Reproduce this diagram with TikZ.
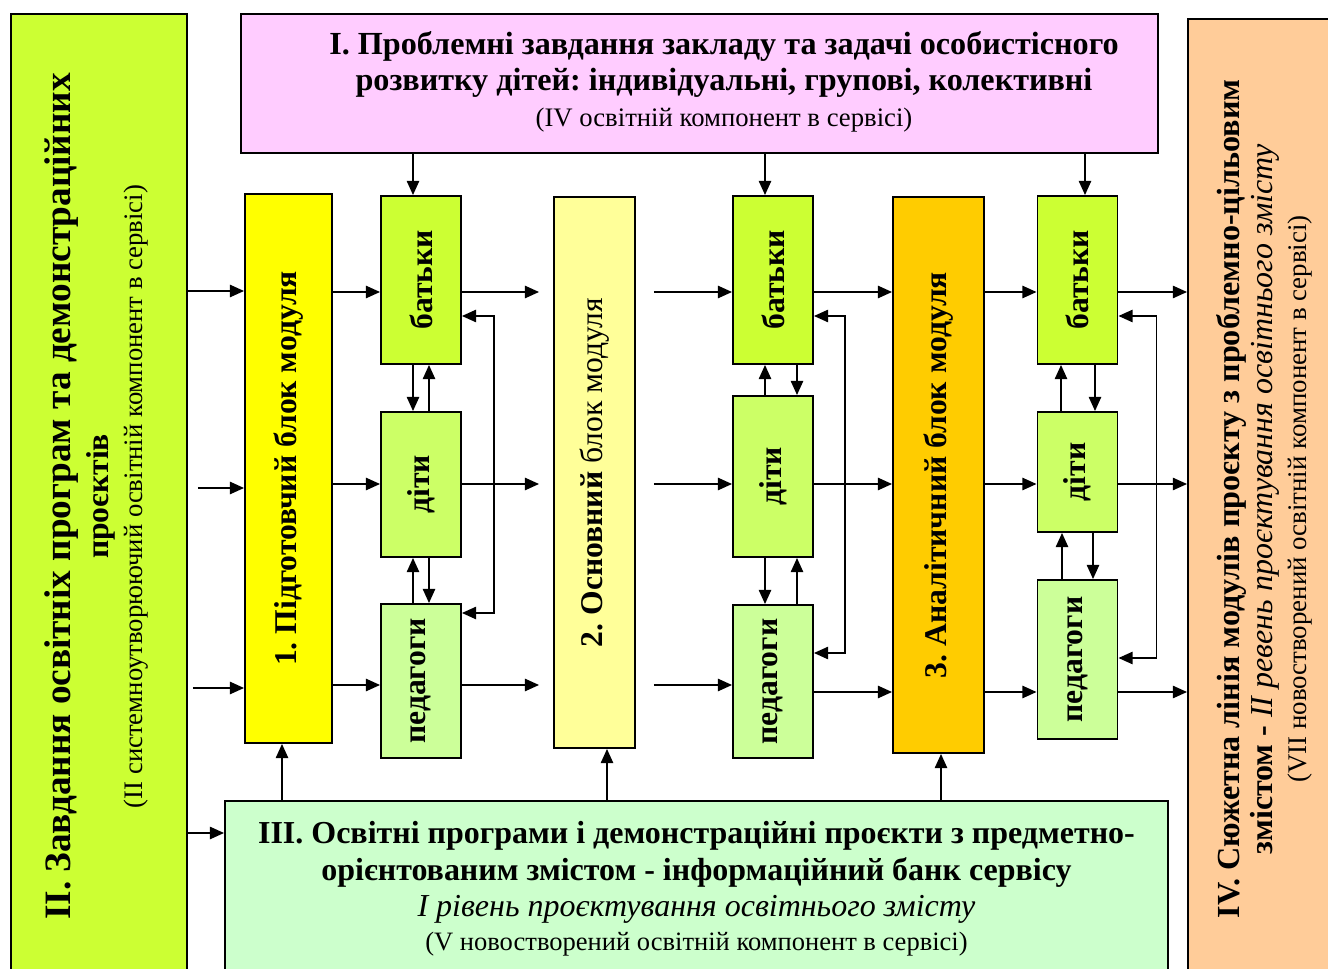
\documentclass[tikz,border=0pt]{standalone}
\usepackage{fontspec}
\setmainfont{Liberation Serif}
\frenchspacing
\usetikzlibrary{arrows.meta}
\definecolor{cLime}{HTML}{CCFF33}
\definecolor{cDit}{HTML}{CCFF66}
\definecolor{cPed}{HTML}{CCFF99}
\definecolor{cYel}{HTML}{FFFF00}
\definecolor{cPale}{HTML}{FFFF99}
\definecolor{cOrange}{HTML}{FFCC00}
\definecolor{cPink}{HTML}{FFCCFF}
\definecolor{cMint}{HTML}{CCFFCC}
\definecolor{cPeach}{HTML}{FFCC99}
\newcommand{\vtxt}[1]{\rotatebox{90}{#1}}

\begin{document}
\begin{tikzpicture}[>={Triangle[length=8pt,width=7pt]},
  box/.style={draw,line width=1.1pt,inner sep=0pt,font=\bfseries\fontsize{18}{21}\selectfont},
  small/.style={box,minimum width=1.6cm},
  ar/.style={->,line width=0.85pt},
  loop/.style={<->,line width=0.85pt}]
\useasboundingbox (0,0) rectangle (26.56,19.36);
\coordinate (r1) at (0,13.52);
\coordinate (r2) at (0,9.68);
\coordinate (r3) at (0,5.66);
\coordinate (r4) at (0,5.52);

\node[box,fill=cLime,minimum width=3.52cm,minimum height=19.3cm,anchor=north west] (zad) at (0.2,19.1)
  {\vtxt{\begin{tabular}{c}\fontsize{21.2}{24}\selectfont ІІ. Завдання освітніх програм та демонстраційних\\[1pt]
  проєктів\\[-2pt] \mdseries\fontsize{15.2}{17}\selectfont (ІІ системноутворюючий освітній компонент в сервісі)\end{tabular}}};
\node[box,fill=cPeach,minimum width=3.1cm,minimum height=19.2cm,anchor=north west] (sjuz) at (23.74,19.0)
  {\vtxt{\begin{tabular}{c}\fontsize{18.3}{20}\selectfont IV. Сюжетна лінія модулів проєкту з проблемно-цільовим\\[-2pt]
  \fontsize{18.2}{20}\selectfont змістом - \mdseries\itshape ІІ ревень проєктування освітнього змісту\\[-2pt]
  \mdseries\fontsize{15.3}{17}\selectfont (VII новостворений освітній компонент в  сервісі)\end{tabular}}};
\node[box,fill=cPink,minimum width=18.34cm,minimum height=2.78cm] (prob) at (13.99,17.69) {};
\node[align=center,font=\bfseries\fontsize{18.3}{20.5}\selectfont] (probtxt) at (14.48,17.72)
  {І. Проблемні завдання закладу та задачі особистісного\\
  розвитку дітей: індивідуальні, групові, колективні\\
  {\mdseries\fontsize{15.2}{17}\selectfont (IV освітній компонент в сервісі)}};
\node[box,fill=cMint,minimum width=18.86cm,minimum height=3.5cm,anchor=north,align=center,font=\bfseries\fontsize{18.2}{21}\selectfont] (osv) at (13.93,3.36)
  {ІІІ. Освітні програми і демонстраційні проєкти з предметно-\\
  орієнтованим змістом - інформаційний банк сервісу\\
  {\mdseries\itshape І рівень проєктування освітнього змісту}\\[-2pt]
  {\mdseries\fontsize{15.1}{17}\selectfont (V новостворений освітній компонент в сервісі)}};

\node[box,fill=cYel,minimum width=1.74cm,minimum height=10.98cm] (blok1) at (5.77,9.99) {\vtxt{1. Підготовчий блок модуля}};
\node[box,fill=cPale,minimum width=1.62cm,minimum height=11.02cm] (blok2) at (11.89,9.91) {\vtxt{2. Основний {\mdseries блок модуля}}};
\node[box,fill=cOrange,minimum width=1.82cm,minimum height=11.12cm] (blok3) at (18.77,9.86) {\vtxt{3. Аналітичний блок модуля}};

\node[small,fill=cLime,minimum height=3.36cm] (bat1) at (8.42,13.76) {\vtxt{батьки}};
\node[small,fill=cDit,minimum height=2.9cm] (dit1) at (8.42,9.67) {\vtxt{діти}};
\node[small,fill=cPed,minimum height=3.08cm] (ped1) at (8.42,5.74) {\vtxt{педагоги}};
\node[small,fill=cLime,minimum height=3.36cm] (bat2) at (15.46,13.76) {\vtxt{батьки}};
\node[small,fill=cDit,minimum height=3.22cm] (dit2) at (15.46,9.83) {\vtxt{діти}};
\node[small,fill=cPed,minimum height=3.06cm] (ped2) at (15.46,5.73) {\vtxt{педагоги}};
\node[small,fill=cLime,minimum height=3.36cm] (bat3) at (21.55,13.76) {\vtxt{батьки}};
\node[small,fill=cDit,minimum height=2.4cm] (dit3) at (21.55,9.92) {\vtxt{діти}};
\node[small,fill=cPed,minimum height=3.18cm] (ped3) at (21.55,6.17) {\vtxt{педагоги}};

\draw[ar] (zad.east |- 0,13.54) -- (blok1.west |- 0,13.54);
\draw[ar] ([xshift=2mm]zad.east |- 0,9.6) -- (blok1.west |- 0,9.6);
\draw[ar] ([xshift=1mm]zad.east |- 0,5.6) -- (blok1.west |- 0,5.6);
\draw[ar] (zad.east |- 0,2.7) -- (osv.west |- 0,2.7);

\draw[ar] (prob.south -| 8.26,0) -- (bat1.north -| 8.26,0);
\draw[ar] (prob.south -| 15.3,0) -- (bat2.north -| 15.3,0);
\draw[ar] (prob.south -| 21.7,0) -- (bat3.north -| 21.7,0);

\draw[ar] (osv.north -| 5.64,0) -- (blok1.south -| 5.64,0);
\draw[ar] (osv.north -| 12.14,0) -- (blok2.south -| 12.14,0);
\draw[ar] (osv.north -| 18.82,0) -- (blok3.south -| 18.82,0);

\draw[ar] (blok1.east |- r1) -- (bat1.west |- r1);
\draw[ar] (blok1.east |- r2) -- (dit1.west |- r2);
\draw[ar] (blok1.east |- r3) -- (ped1.west |- r3);
\draw[ar,shorten >=2.8mm] (bat1.east |- r1) -- (blok2.west |- r1);
\draw[ar,shorten >=2.8mm] (dit1.east |- r2) -- (blok2.west |- r2);
\draw[ar,shorten >=2.8mm] (ped1.east |- r3) -- (blok2.west |- r3);
\draw[ar,shorten <=3.6mm] (blok2.east |- r1) -- (bat2.west |- r1);
\draw[ar,shorten <=3.6mm] (blok2.east |- r2) -- (dit2.west |- r2);
\draw[ar,shorten <=3.6mm] (blok2.east |- r3) -- (ped2.west |- r3);
\draw[ar] (bat2.east |- r1) -- (blok3.west |- r1);
\draw[ar] (dit2.east |- r2) -- (blok3.west |- r2);
\draw[ar] (ped2.east |- r4) -- (blok3.west |- r4);
\draw[ar] (blok3.east |- r1) -- (bat3.west |- r1);
\draw[ar] (blok3.east |- r2) -- (dit3.west |- r2);
\draw[ar] (blok3.east |- r4) -- (ped3.west |- r4);
\draw[ar] (bat3.east |- r1) -- (sjuz.west |- r1);
\draw[ar] (dit3.east |- r2) -- (sjuz.west |- r2);
\draw[ar] (ped3.east |- r4) -- (sjuz.west |- r4);

\draw[ar] ([xshift=-1.6mm]bat1.south) -- ([xshift=-1.6mm]dit1.north);
\draw[ar] ([xshift=1.6mm]dit1.north) -- ([xshift=1.6mm]bat1.south);
\draw[ar] ([xshift=-1.6mm]ped1.north) -- ([xshift=-1.6mm]dit1.south);
\draw[ar] ([xshift=1.6mm]dit1.south) -- ([xshift=1.6mm]ped1.north);
\draw[ar] ([xshift=-1.6mm]dit2.north) -- ([xshift=-1.6mm]bat2.south);
\draw[ar] ([xshift=4.8mm]bat2.south) -- ([xshift=4.8mm]dit2.north);
\draw[ar] ([xshift=-1.6mm]dit2.south) -- ([xshift=-1.6mm]ped2.north);
\draw[ar] ([xshift=4.8mm]ped2.north) -- ([xshift=4.8mm]dit2.south);
\draw[ar] ([xshift=-3.3mm]dit3.north) -- ([xshift=-3.3mm]bat3.south);
\draw[ar] ([xshift=3.5mm]bat3.south) -- ([xshift=3.5mm]dit3.north);
\draw[ar] ([xshift=-3.1mm]ped3.north) -- ([xshift=-3.1mm]dit3.south);
\draw[ar] ([xshift=3.1mm]dit3.south) -- ([xshift=3.1mm]ped3.north);

\draw[loop] (bat1.east |- 0,13.04) -- ++(0.64,0) |- (ped1.east |- 0,7.1);
\draw[loop] (bat2.east |- 0,13.04) -- ++(0.62,0) |- (ped2.east |- 0,6.3);
\draw[loop] (bat3.east |- 0,13.04) -- ++(0.76,0) |- (ped3.east |- 0,6.2);
\end{tikzpicture}
\end{document}
